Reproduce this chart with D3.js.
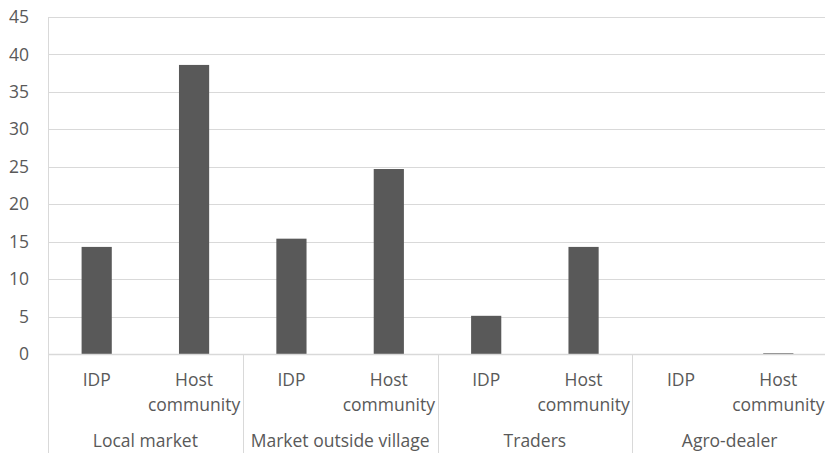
<!DOCTYPE html>
<html>
<head>
<meta charset="utf-8">
<script src="https://cdn.jsdelivr.net/npm/d3@7"></script>
<style>
  body { margin: 0; background: #fff; overflow: hidden; }
  text { font-family: "Open Sans", "Noto Sans", sans-serif; fill: #595959; }
</style>
</head>
<body>
<svg id="chart"></svg>
<script>
const groups = ["Local market", "Market outside village", "Traders", "Agro-dealer"];
const subgroups = ["IDP", "Host community"];
const values = [
    [14.3, 38.6],
    [15.4, 24.7],
    [5.1, 14.3],
    [0, 0.1]
];
const yTicks = [0, 5, 10, 15, 20, 25, 30, 35, 40, 45];

const width = 825, height = 453;
const margin = {top: 17, right: -2, bottom: 99, left: 48};
const fontSize = '17.5px';

const svg = d3.select('#chart')
    .attr('width', width)
    .attr('height', height);

const plotW = width - margin.left - margin.right;
const plotH = height - margin.top - margin.bottom;

const x0 = d3.scaleBand()
    .domain(groups)
    .range([margin.left, margin.left + plotW]);

const x1 = d3.scaleBand()
    .domain(subgroups)
    .range([0, x0.bandwidth()])
    .paddingInner(0.69)
    .paddingOuter(0.345);

const y = d3.scaleLinear()
    .domain([0, 45])
    .range([margin.top + plotH, margin.top]);

// gridlines
svg.append('g')
    .selectAll('line')
    .data(yTicks)
    .join('line')
    .attr('x1', margin.left)
    .attr('x2', margin.left + plotW)
    .attr('y1', d => Math.round(y(d)) + 0.5)
    .attr('y2', d => Math.round(y(d)) + 0.5)
    .attr('stroke', '#d9d9d9')
    .attr('stroke-width', 1);

// y axis labels
const yaxis = d3.axisLeft(y)
    .tickValues(yTicks)
    .tickSize(0)
    .tickPadding(19);

const yg = svg.append('g')
    .attr('transform', `translate(${margin.left},0)`)
    .call(yaxis);
yg.select('.domain').remove();
yg.selectAll('text')
    .style('font-size', fontSize)
    .style('fill', '#595959')
    .style('font-family', '"Open Sans", sans-serif');

// left axis line
svg.append('line')
    .attr('x1', margin.left + 0.5).attr('x2', margin.left + 0.5)
    .attr('y1', margin.top).attr('y2', height)
    .attr('stroke', '#d9d9d9');

// category separators below the axis
svg.append('g')
    .selectAll('line')
    .data(groups.slice(1))
    .join('line')
    .attr('x1', d => Math.round(x0(d)) + 0.5)
    .attr('x2', d => Math.round(x0(d)) + 0.5)
    .attr('y1', y(0))
    .attr('y2', height)
    .attr('stroke', '#d9d9d9');

// bars
const bars = svg.append('g')
    .selectAll('g')
    .data(groups)
    .join('g')
    .attr('transform', d => `translate(${x0(d)},0)`);

bars.selectAll('rect')
    .data((d, i) => subgroups.map((s, j) => ({s: s, v: values[i][j]})))
    .join('rect')
    .attr('x', d => x1(d.s))
    .attr('width', x1.bandwidth())
    .attr('y', d => y(d.v))
    .attr('height', d => y(0) - y(d.v))
    .attr('fill', '#595959');

// x axis baseline
svg.append('line')
    .attr('x1', margin.left).attr('x2', margin.left + plotW)
    .attr('y1', Math.round(y(0)) + 0.5).attr('y2', Math.round(y(0)) + 0.5)
    .attr('stroke', '#d9d9d9')
    .attr('stroke-width', 1.5);

// subgroup labels
const sub = bars.selectAll('text.sub')
    .data(subgroups)
    .join('text')
    .attr('class', 'sub')
    .attr('text-anchor', 'middle')
    .style('font-size', fontSize);

sub.each(function(d) {
    const t = d3.select(this);
    const cx = x1(d) + x1.bandwidth() / 2;
    const words = d.split(' ');
    words.forEach((w, k) => {
        t.append('tspan')
            .attr('x', cx)
            .attr('y', y(0) + 32 + k * 25)
            .text(w);
    });
});

// group labels
svg.append('g')
    .selectAll('text')
    .data(groups)
    .join('text')
    .attr('x', d => x0(d) + x0.bandwidth() / 2)
    .attr('y', y(0) + 93)
    .attr('text-anchor', 'middle')
    .style('font-size', fontSize)
    .text(d => d);
</script>
</body>
</html>
